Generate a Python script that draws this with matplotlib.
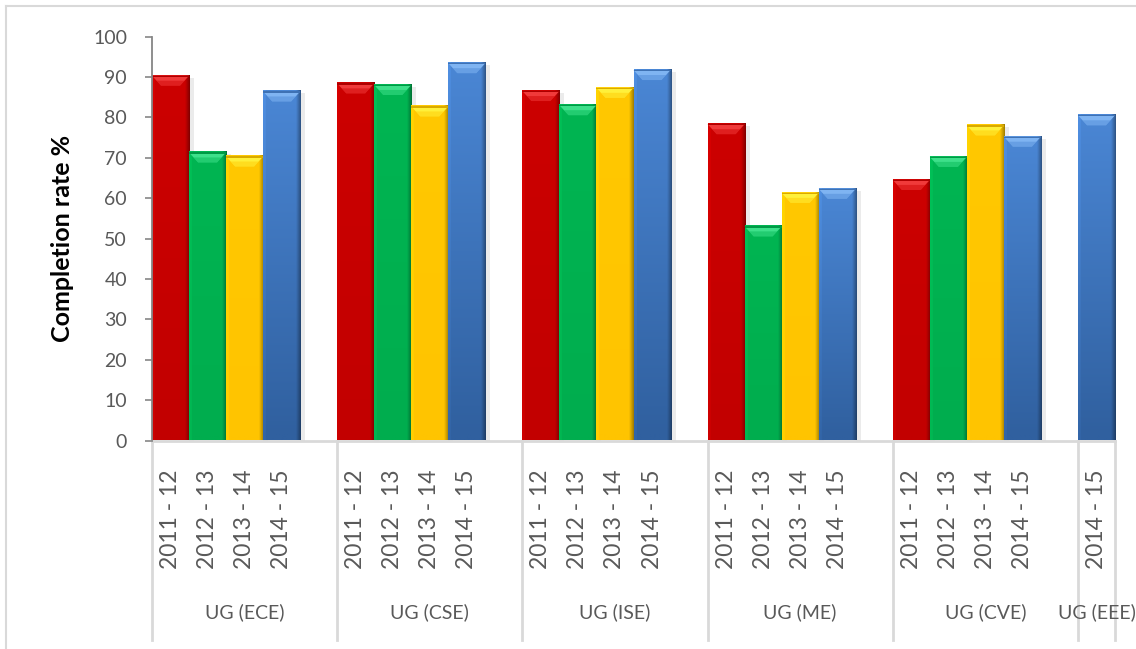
import numpy as np
import matplotlib.pyplot as plt
from matplotlib.patches import Polygon, Rectangle
from matplotlib.lines import Line2D
import matplotlib.transforms as mtrans

plt.rcParams['font.family'] = ['Lato', 'DejaVu Sans']

groups = ['UG (ECE)', 'UG (CSE)', 'UG (ISE)', 'UG (ME)', 'UG (CVE)', 'UG (EEE)']
years = ['2011 - 12', '2012 - 13', '2013 - 14', '2014 - 15']
ece = [90.3, 71.3, 70.3, 86.4]
cse = [88.4, 88.0, 82.7, 93.4]
ise = [86.5, 83.0, 87.3, 91.7]
me = [78.3, 53.0, 61.3, 62.3]
cve = [64.5, 70.2, 78.0, 75.2]
eee = [None, None, None, 80.5]
values = [ece, cse, ise, me, cve, eee]

# face colour at top / bottom of bar, bevel colour, per year
top_cols = ['#cc0000', '#00b552', '#ffc800', '#4a86d4']
bot_cols = ['#c20000', '#00ad4e', '#ffc400', '#30609f']
bevel_cols = ['#f03a3a', '#3ee08a', '#fff03a', '#7fb4f2']

fig = plt.figure(figsize=(11.36, 6.49), dpi=100)
ax_h = 404.0
ax = fig.add_axes([152 / 1136, 1 - 440.5 / 649, 963 / 1136, ax_h / 649])

# bevel size in pixels -> data units
px_x = 1 / 37.0
px_y = 100 / ax_h
bev_w, bev_h = 9 * px_x, 10 * px_y


def hex_rgb(c):
    c = c.lstrip('#')
    return np.array([int(c[i:i + 2], 16) / 255 for i in (0, 2, 4)])


def draw_bar(x, v, k):
    x0, x1 = x - 0.5, x + 0.5
    top = hex_rgb(top_cols[k])
    bot = hex_rgb(bot_cols[k])
    # horizontal shading: light left edge, dark right edge
    u = np.linspace(0, 1, 40)
    prof = np.ones_like(u)
    prof[u < 0.06] = 1.06
    prof = prof - 0.35 * np.clip((u - 0.88) / 0.12, 0, 1)
    rows = np.linspace(0, 1, 30)[:, None, None]
    img = bot + (top - bot) * rows
    img = np.clip(img * prof[None, :, None], 0, 1)
    ax.imshow(img, extent=(x0, x1, 0, v), origin='lower', aspect='auto',
              interpolation='bilinear', zorder=2)
    # soft shadow on the right
    ax.add_patch(Rectangle((x1, 0), 5 * px_x, v - 2 * px_y, color='#000000',
                           alpha=0.08, lw=0, zorder=1))
    # top bevel, two tones for a little gradient
    ax.add_patch(Polygon([(x0, v), (x1, v), (x1 - bev_w, v - bev_h),
                          (x0 + bev_w, v - bev_h)], closed=True,
                         facecolor=bevel_cols[k], edgecolor='none', zorder=3))
    ax.add_patch(Polygon([(x0 + bev_w * 0.5, v - bev_h * 0.5),
                          (x1 - bev_w * 0.5, v - bev_h * 0.5),
                          (x1 - bev_w, v - bev_h), (x0 + bev_w, v - bev_h)],
                         closed=True, facecolor=top, alpha=0.45,
                         edgecolor='none', zorder=3))
    ax.add_patch(Rectangle((x0, v - 1.2 * px_y), 1, 1.2 * px_y,
                           color=top * 0.85, lw=0, zorder=4))


pos = 0
tick_pos, tick_lab = [], []
edges = [-0.5]
centers = []
for g, vals in enumerate(values):
    for k, v in enumerate(vals):
        if v is None:
            continue
        draw_bar(pos, v, k)
        tick_pos.append(pos)
        tick_lab.append(years[k])
        pos += 1
    if g < len(values) - 1:
        pos += 1
    edges.append(pos - 0.5)
    centers.append((edges[-2] + edges[-1]) / 2)

ax.set_xlim(-0.5, pos - 0.5)
ax.set_ylim(0, 100)
ax.set_yticks(range(0, 101, 10))
ax.set_xticks(tick_pos, tick_lab, rotation=90, va='top')

ax.tick_params(axis='y', length=5, width=1.2, color='#868686', pad=13,
               labelsize=14, labelcolor='#595959')
ax.tick_params(axis='x', length=0, pad=21, labelsize=16.5,
               labelcolor='#595959')

for s in ['top', 'right']:
    ax.spines[s].set_visible(False)
ax.spines['left'].set_color('#868686')
ax.spines['left'].set_linewidth(1.3)
ax.spines['bottom'].set_color('#d9d9d9')
ax.spines['bottom'].set_linewidth(2)
ax.spines['left'].set_zorder(5)

trans = mtrans.blended_transform_factory(ax.transData, ax.transAxes)
for e in edges:
    ax.plot([e, e], [0, -(640 - 440.5) / ax_h], transform=trans,
            color='#d9d9d9', lw=2, clip_on=False, zorder=0)
for c, name in zip(centers, groups):
    ax.text(c, -(612 - 440.5) / ax_h, name, transform=trans, ha='center',
            va='center', fontsize=14, color='#595959')

ax.text(-90 / 963, 0.5, 'Completion rate %', transform=ax.transAxes,
        rotation=90, ha='center', va='center', fontsize=18,
        fontweight='bold', color='black')

# chart frame
fig.add_artist(Line2D([5.5 / 1136, 5.5 / 1136], [0, 1 - 6 / 649],
                      color='#d9d9d9', lw=1.5))
fig.add_artist(Line2D([5.5 / 1136, 1], [1 - 6 / 649, 1 - 6 / 649],
                      color='#d9d9d9', lw=1.5))

fig.savefig('out.png', dpi=100)
